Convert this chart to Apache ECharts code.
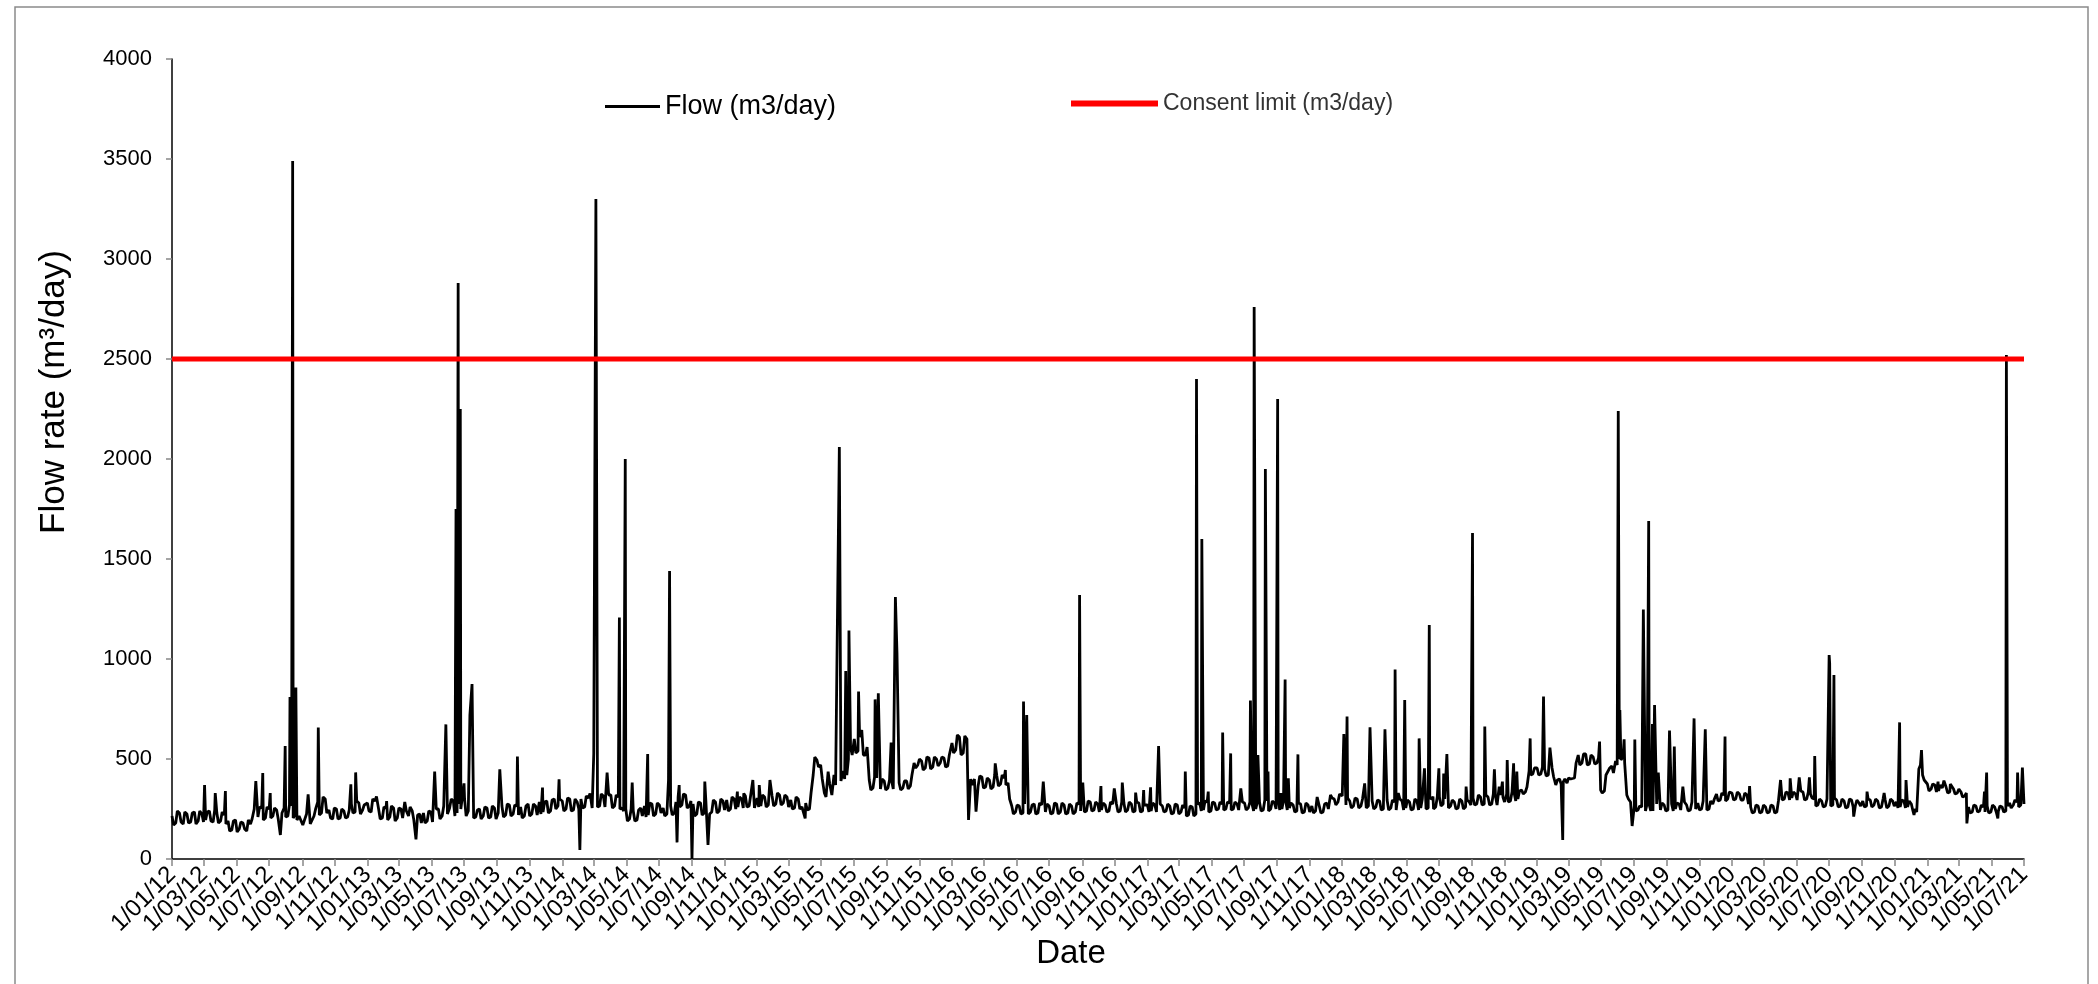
<!DOCTYPE html>
<html><head><meta charset="utf-8">
<script src="https://cdn.jsdelivr.net/npm/echarts@6/dist/echarts.min.js"></script>
<style>html,body{margin:0;padding:0;background:#fff}#c{width:2098px;height:984px}</style>
</head><body><div id="c"></div><script>
// ---- data ----
const startDate = '2012-01-01';
const endDate = '2021-07-01';
// weekly baseline readings, week k = 1 Jan of the year + 7k days
const flow2012 = [215,180,230,175,225,185,235,190, 225,195,240,185,230,190,220, 190,145,195,150,180,140,175, 250,210,255,205,250,215,245, 120, 255,215,265,225, 215,170,225,175,215, 285,230,300, 245,200,250,205,240,210, 275,235,280,245];
const flow2013 = [280,235,290, 250,205,255,210,255,205, 250,285,215, 240,98,225, 230,190,235,195, 250,215,270, 255,290,230,250, 300,240,260,210, 250,215,255,210,255,230, 265,220,270,225,265, 260,215,275,225,265, 285,235,290,240,300,265];
const flow2014 = [290,250,300,245,285, 300,260,305,255, 320,265,315,270, 320,265,310,255, 250,200,240,195,255, 265,220,275,225,270, 255,225,265,230, 310,270,320,265, 275,225,280,230, 280,235,285,240,290, 295,250,300,260,300, 315,265,305];
const flow2015 = [305,265,310,270, 315,275,320,280,310, 295,255,300,260, 280,250, 420,495,470,330,365,320,370,335, 440,420,560, 600,540,590,520, 395,355,405,350,390,355, 390,360, 380,355,390, 365,480,470, 490,455,505,460,500, 480,505,465];
const flow2016 = [580,545,610,530,600, 400, 400,365,410,360, 395,360,415,375, 405,380,265,235, 265,230,270,235, 275,230,270,235, 265,230,275,235, 270,230,265,235,275, 280,240,285,245, 275,245,270,240,275, 275,240,280,245, 275,240,280,240];
const flow2017 = [270,240,270,245,265,240, 265,230,270,235, 255,220,260,225, 280,245,285,240, 280,250,275,250, 280,250,275,250, 280,255,275,250, 285,245,290,250,280, 295,250,290,255, 270,240,275,235,270, 265,240,265,235, 280,265,300,285];
const flow2018 = [315,270,290,265,300,265, 295,265,290,260, 290,250,295,255, 285,255,290,255, 285,250,290,255, 295,255,300,260, 310,275,290,265, 285,255,290,260,285, 305,275,310,275, 310,275,315,280,310, 325,290,330,300, 345,335,440,425];
const flow2019 = [455,425,450,420,455, 370,400, 385, 380,400, 405,520,480,525,475,510,480, 345, 340, 440,465,490, 500, 510, 320, 285, 265, 245, 260,240, 270,240,275,245, 270,245,275,250, 275,250,270,245,275, 280,250,280,250,275, 325,295,320,300];
const flow2020 = [330,300,325,295,320, 260,235,265,235, 260,235,265,235, 325,300,330,305, 325,300,335,300,325, 300,270,290,265, 300,270,295,265, 290,260,295,265,280, 290,265,295,270, 290,260,295,265,290, 285,260,290,260, 275,250,450,420];
const flow2021 = [375,350,370,340,355, 360,335,350,330, 335,315, 260,235,265,240,260, 265,235,260,240, 260,240,280,270,285,270];
// mid-week readings, 3 days after each weekly reading
const mid2012 = [170,240,185,235,180,230,175,240, 185,235,190,245,180,235,175, 140,190,135,185,150,195,200, 200,260,195,260,205,255,200, 230, 210,270,205,195, 225,165,230,170,250, 220,310,230, 205,255,200,250,205,245, 230,290,225,270];
const mid2013 = [240,300,215, 200,260,195,265,190,255, 205,240,260, 195,220,180, 180,240,185,250, 200,265,225, 300,215,275,260, 215,285,205,245, 200,260,205,265,200,240, 210,275,215,270,220, 205,265,215,275,220, 225,285,230,295,250,300];
const mid2014 = [240,305,240,300,250, 255,315,250,310, 260,325,260,320, 255,320,250,240, 190,250,190,245,215, 210,280,215,280,230, 215,270,220,285, 260,325,255,290, 215,285,220,290, 225,295,230,300,245, 240,310,250,310,255, 260,320,255];
const mid2015 = [260,320,260,325, 265,330,270,320,260, 250,310,250,270, 245,330, 510,460,400,310,375,315,380,390, 400,500,520, 530,610,520,560, 345,410,340,400,345,395, 350,395, 345,390,350, 420,455,500, 445,510,450,510,465, 510,460,520];
const mid2016 = [530,620,520,615,540, 370, 355,415,355,405, 350,420,365,420, 370,300,225,270, 225,275,225,270, 225,280,225,275, 225,280,225,280, 225,275,225,280,240, 235,290,240,285, 235,280,235,285,240, 235,285,235,285, 235,285,235,270];
const mid2017 = [235,280,235,275,235,275, 225,275,225,270, 215,265,215,275, 240,290,235,285, 245,285,245,285, 245,285,245,285, 245,285,240,285, 240,295,240,290,250, 245,295,245,280, 235,280,230,280,235, 230,270,230,275, 250,305,270,325];
const mid2018 = [265,305,255,305,255,300, 255,300,250,295, 245,300,245,295, 245,300,245,295, 245,300,245,300, 250,305,250,310, 265,300,255,295, 250,300,250,295,270, 270,320,270,320, 270,325,270,320,285, 285,335,290,340, 325,360,420,455];
const mid2019 = [420,460,415,460,410, 395,375, 400, 405,390, 480,470,525,470,520,475,505, 330, 420, 455,430,470, 495, 480, 300, 275, 240, 265, 240,275, 240,280,240,280, 240,285,240,280, 245,285,240,285,250, 245,290,245,290,300, 290,330,290,335];
const mid2020 = [295,335,295,330,275, 230,270,230,270, 230,270,230,290, 295,335,295,335, 295,340,295,335,305, 265,300,260,300, 265,305,260,300, 255,300,260,295,265, 260,300,260,300, 255,300,255,300,265, 255,295,255,290, 240,235,470,395];
const mid2021 = [340,375,335,370,335, 330,365,325,350, 310,330, 230,270,235,270,235, 230,270,235,265, 235,265,255,295,260,290];
// single-day peaks and dips
const spikeDates = [
 '2012-03-02','2012-03-22','2012-04-10','2012-06-06','2012-06-19','2012-07-03','2012-07-31','2012-08-09','2012-08-14','2012-08-20','2012-09-12','2012-10-01','2012-12-01','2012-12-10',
 '2013-01-18','2013-02-06','2013-05-07','2013-05-28','2013-06-16','2013-06-20','2013-06-24','2013-07-01','2013-07-12','2013-07-16','2013-09-06','2013-10-09','2013-11-25','2013-12-26',
 '2014-02-03','2014-02-22','2014-03-01','2014-03-05','2014-03-26','2014-04-18','2014-04-29','2014-05-12','2014-06-10','2014-07-19','2014-07-21','2014-08-04','2014-08-08','2014-09-01','2014-09-25','2014-10-01','2014-11-25','2014-12-07','2014-12-24',
 '2015-01-05','2015-01-25','2015-04-01','2015-05-14','2015-05-25','2015-06-04','2015-06-16','2015-06-22','2015-07-10','2015-07-16','2015-08-10','2015-08-16','2015-09-09','2015-09-17','2015-09-20',
 '2016-01-28','2016-02-01','2016-02-15','2016-03-22','2016-04-10','2016-05-14','2016-05-20','2016-06-20','2016-08-27','2016-09-02','2016-10-06','2016-10-31','2016-11-15','2016-12-10','2016-12-25',
 '2017-01-07','2017-01-22','2017-03-13','2017-04-03','2017-04-13','2017-04-25','2017-05-22','2017-06-06','2017-06-25','2017-07-13','2017-07-20','2017-07-27','2017-08-10','2017-08-15','2017-09-02','2017-09-08','2017-09-16','2017-09-22','2017-10-10','2017-11-15','2017-12-10',
 '2018-01-04','2018-01-10','2018-02-12','2018-02-22','2018-03-22','2018-04-10','2018-04-16','2018-04-28','2018-05-25','2018-06-04','2018-06-13','2018-06-20','2018-07-01','2018-07-10','2018-07-16','2018-08-21','2018-09-02','2018-09-25','2018-10-13','2018-10-22','2018-10-28','2018-11-06','2018-11-18','2018-11-24','2018-12-19',
 '2019-01-13','2019-01-25','2019-02-18','2019-04-28','2019-06-02','2019-06-05','2019-06-13','2019-06-28','2019-07-03','2019-07-19','2019-07-29','2019-08-05','2019-08-09','2019-08-16','2019-09-06','2019-09-15','2019-10-01','2019-10-22','2019-11-12','2019-12-19',
 '2020-02-03','2020-04-01','2020-04-19','2020-05-06','2020-05-25','2020-06-04','2020-07-01','2020-07-02','2020-07-10','2020-08-16','2020-09-10','2020-10-12','2020-11-10','2020-11-22','2020-12-07','2020-12-21',
 '2021-01-21','2021-02-01','2021-02-13','2021-03-16','2021-04-18','2021-04-22','2021-05-13','2021-05-29','2021-06-19','2021-06-28','2021-07-01'];
const spikeValues = [
 370,330,340,390,430,330,565,810,3490,857,323,658,373,433,
 312,290,437,673,1750,2880,2250,378,720,875,448,512,357,398,
 45,328,525,3300,432,1208,2000,382,525,395,1440,83,370,0,387,70,337,328,395,
 370,395,203,437,420,2060,940,1142,837,645,798,828,582,1310,1028,
 620,195,237,478,445,787,720,387,1320,382,365,353,382,332,345,
 358,565,437,2400,1600,337,632,528,353,792,2760,520,1950,437,2300,330,898,403,523,310,320,
 625,712,378,658,648,948,330,795,603,453,1170,312,453,428,525,362,1630,662,448,362,387,495,478,437,603,
 812,557,95,587,2240,745,598,165,598,1248,1690,675,770,432,642,562,362,703,648,612,
 365,395,403,408,408,515,1020,978,920,212,337,330,683,395,220,545,
 387,392,375,178,337,432,203,2520,432,457,275];
const consentDates = ['2012-01-01','2021-07-01'];
const consentValues = [2500, 2500];
const yTicks = {min: 0, max: 4000, step: 500};

// ---- build daily category axis ----
const DAY = 86400000;
const t0 = Date.parse(startDate + 'T00:00:00Z');
const t1 = Date.parse(endDate + 'T00:00:00Z');
const days = [];
for (let t = t0; t <= t1; t += DAY) days.push(new Date(t).toISOString().slice(0, 10));
const idx = d => Math.round((Date.parse(d + 'T00:00:00Z') - t0) / DAY);
const flowData = new Array(days.length).fill(null);
const weekly = {2012: flow2012, 2013: flow2013, 2014: flow2014, 2015: flow2015, 2016: flow2016, 2017: flow2017, 2018: flow2018, 2019: flow2019, 2020: flow2020, 2021: flow2021};
const midweek = {2012: mid2012, 2013: mid2013, 2014: mid2014, 2015: mid2015, 2016: mid2016, 2017: mid2017, 2018: mid2018, 2019: mid2019, 2020: mid2020, 2021: mid2021};
Object.keys(weekly).forEach(y => {
  const base = idx(y + '-01-01');
  weekly[y].forEach((v, k) => { const i = base + 7 * k; if (i < days.length) flowData[i] = v; });
  midweek[y].forEach((v, k) => { const i = base + 7 * k + 3; if (i < days.length) flowData[i] = v; });
});
spikeDates.forEach((d, k) => { const i = idx(d); if (i >= 0 && i < days.length) flowData[i] = spikeValues[k]; });
const consentData = new Array(days.length).fill(null);
consentDates.forEach((d, k) => { consentData[idx(d)] = consentValues[k]; });

const isTick = (i, v) => v.slice(8) === '01' && (+v.slice(5, 7)) % 2 === 1;
const fmt = v => isTick(0, v) ? (+v.slice(8)) + '/' + v.slice(5, 7) + '/' + v.slice(2, 4) : '';
const FONT = '"Liberation Sans", Arial, sans-serif';

const chart = echarts.init(document.getElementById('c'), null, {renderer: 'canvas'});
chart.setOption({
  animation: false,
  backgroundColor: '#fff',
  grid: {left: 172, right: 74, top: 59, bottom: 125},
  legend: [
    {data: ['Flow (m3/day)'], left: 600, top: 88, icon: 'rect', itemWidth: 55, itemHeight: 3, itemGap: 5,
     textStyle: {fontFamily: FONT, fontSize: 27, color: '#000'}},
    {data: ['Consent limit (m3/day)'], left: 1066, top: 87, icon: 'rect', itemWidth: 87, itemHeight: 6,
     textStyle: {fontFamily: FONT, fontSize: 23, color: '#333'}}
  ],
  xAxis: {
    type: 'category', data: days, boundaryGap: false,
    axisLine: {lineStyle: {color: '#000', width: 1.5}},
    axisTick: {show: true, interval: isTick, length: 7, lineStyle: {color: '#888', width: 1.5}},
    axisLabel: {interval: 0, formatter: fmt, rotate: 45, margin: 12, fontFamily: FONT, fontSize: 24, color: '#000', hideOverlap: false},
    splitLine: {show: false}
  },
  yAxis: {
    type: 'value', min: yTicks.min, max: yTicks.max, interval: yTicks.step,
    axisLine: {show: true, lineStyle: {color: '#000', width: 1.5}},
    axisTick: {show: true, length: 6, lineStyle: {color: '#888', width: 1.5}},
    axisLabel: {margin: 20, fontFamily: FONT, fontSize: 22, color: '#000', formatter: v => String(v)},
    splitLine: {show: false}
  },
  series: [
    {name: 'Flow (m3/day)', type: 'line', data: flowData, connectNulls: true, showSymbol: false, symbol: 'none',
     color: '#000', lineStyle: {color: '#000', width: 2.8}, sampling: null, z: 2},
    {name: 'Consent limit (m3/day)', type: 'line', data: consentData, connectNulls: true, showSymbol: false, symbol: 'none',
     color: '#ff0000', lineStyle: {color: '#ff0000', width: 5}, z: 3}
  ],
  graphic: [
    {type: 'rect', shape: {x: 15, y: 7, width: 2073, height: 990}, style: {fill: 'none', stroke: '#8a8a8a', lineWidth: 1.5}, silent: true},
    {type: 'text', x: 54, y: 392, rotation: Math.PI / 2,
     style: {text: 'Flow rate (m³/day)', font: '35px "Liberation Sans", Arial, sans-serif', fill: '#000', align: 'center', verticalAlign: 'middle'}},
    {type: 'text', x: 1071, y: 954,
     style: {text: 'Date', font: '33px "Liberation Sans", Arial, sans-serif', fill: '#000', align: 'center', verticalAlign: 'middle'}}
  ]
});
</script></body></html>
